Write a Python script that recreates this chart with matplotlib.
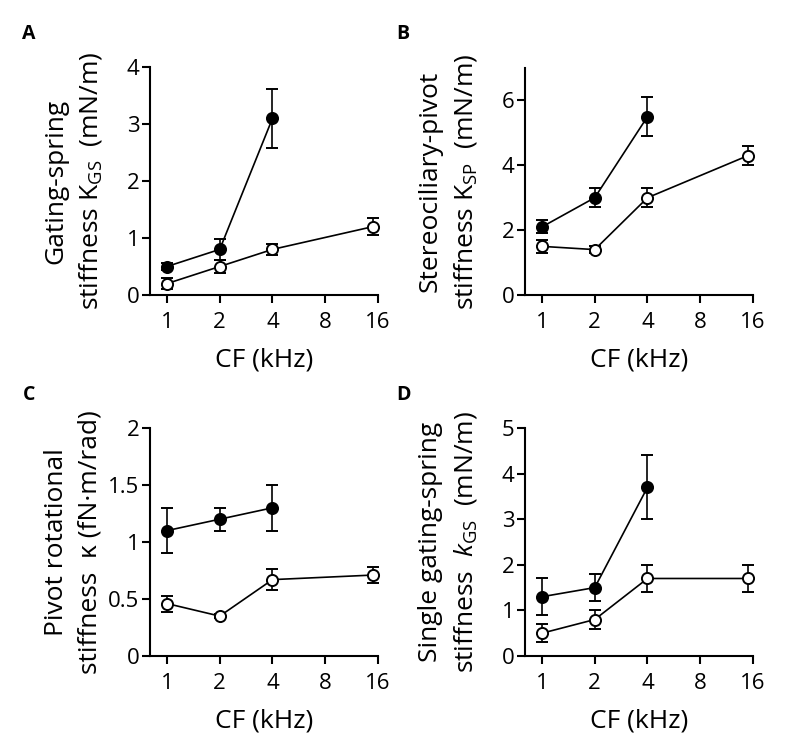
import matplotlib
matplotlib.use('Agg')
import matplotlib.pyplot as plt
from matplotlib.ticker import NullLocator

plt.rcParams['font.family'] = ['Open Sans', 'DejaVu Sans']
plt.rcParams['mathtext.fontset'] = 'custom'
plt.rcParams['mathtext.rm'] = 'Open Sans'
plt.rcParams['mathtext.it'] = 'Open Sans:italic'

# ---- data ----
cf_filled = [1, 2, 4]
cf_open = [1, 2, 4, 15]
xtick_vals = [1, 2, 4, 8, 16]
xtick_labels = ['1', '2', '4', '8', '16']

# A: gating-spring stiffness K_GS (mN/m)
a_filled = [0.5, 0.8, 3.1]
a_filled_err = [0.06, 0.18, 0.52]
a_open = [0.2, 0.5, 0.8, 1.2]
a_open_err = [0.1, 0.12, 0.1, 0.15]
a_yticks = [0, 1, 2, 3, 4]

# B: stereociliary-pivot stiffness K_SP (mN/m)
b_filled = [2.1, 3.0, 5.5]
b_filled_err = [0.2, 0.3, 0.6]
b_open = [1.5, 1.4, 3.0, 4.3]
b_open_err = [0.2, 0.1, 0.3, 0.3]
b_yticks = [0, 2, 4, 6]

# C: pivot rotational stiffness kappa (fN·m/rad)
c_filled = [1.1, 1.2, 1.3]
c_filled_err = [0.2, 0.1, 0.2]
c_open = [0.46, 0.35, 0.67, 0.71]
c_open_err = [0.07, 0.02, 0.09, 0.07]
c_yticks = [0, 0.5, 1, 1.5, 2]
c_yticklabels = ['0', '0.5', '1', '1.5', '2']

# D: single gating-spring stiffness k_GS (mN/m)
d_filled = [1.3, 1.5, 3.7]
d_filled_err = [0.4, 0.3, 0.7]
d_open = [0.5, 0.8, 1.7, 1.7]
d_open_err = [0.2, 0.2, 0.3, 0.3]
d_yticks = [0, 1, 2, 3, 4, 5]

fig = plt.figure(figsize=(7.87, 7.48), dpi=100)

W, H = 787, 748
def rect(l, r, b, t):
    return [l / W, 1 - b / H, (r - l) / W, (b - t) / H]

panels = [
    dict(rect=rect(150, 378, 295, 67), letter='A', lpos=(29, 34),
         filled=a_filled, ferr=a_filled_err, opn=a_open, oerr=a_open_err,
         ylim=(0, 4), yticks=a_yticks, yticklabels=[str(v) for v in a_yticks],
         ylabel='Gating-spring\nstiffness $\\mathregular{K_{GS}}$  (mN/m)', lx=-0.335),
    dict(rect=rect(525, 753, 295, 68), letter='B', lpos=(403, 34),
         filled=b_filled, ferr=b_filled_err, opn=b_open, oerr=b_open_err,
         ylim=(0, 7), yticks=b_yticks, yticklabels=[str(v) for v in b_yticks],
         ylabel='Stereociliary-pivot\nstiffness $\\mathregular{K_{SP}}$  (mN/m)', lx=-0.335),
    dict(rect=rect(150, 378, 656, 428), letter='C', lpos=(29, 395),
         filled=c_filled, ferr=c_filled_err, opn=c_open, oerr=c_open_err,
         ylim=(0, 2), yticks=c_yticks, yticklabels=c_yticklabels,
         ylabel='Pivot rotational\nstiffness  κ (fN·m/rad)', lx=-0.335),
    dict(rect=rect(525, 753, 656, 428), letter='D', lpos=(403, 395),
         filled=d_filled, ferr=d_filled_err, opn=d_open, oerr=d_open_err,
         ylim=(0, 5), yticks=d_yticks, yticklabels=[str(v) for v in d_yticks],
         ylabel='Single gating-spring\nstiffness  $\\mathit{k}_{\\mathregular{GS}}$  (mN/m)', lx=-0.335),
]

for p in panels:
    ax = fig.add_axes(p['rect'])
    ax.set_xscale('log', base=2)
    ax.set_xlim(0.8, 16)
    ax.set_ylim(*p['ylim'])
    common = dict(fmt='-o', color='black', ecolor='black', ms=8, mew=1.4,
                  lw=1.2, elinewidth=1.2, capsize=4.3, capthick=1.2, clip_on=False)
    ax.errorbar(cf_open, p['opn'], yerr=p['oerr'], mfc='white', mec='black', **common)
    ax.errorbar(cf_filled, p['filled'], yerr=p['ferr'], mfc='black', mec='black', **common)
    ax.set_xticks(xtick_vals)
    ax.set_xticklabels(xtick_labels)
    ax.xaxis.set_minor_locator(NullLocator())
    ax.set_yticks(p['yticks'])
    ax.set_yticklabels(p['yticklabels'])
    for s in ['top', 'right']:
        ax.spines[s].set_visible(False)
    for s in ['left', 'bottom']:
        ax.spines[s].set_linewidth(1.5)
    ax.tick_params(direction='out', length=6, width=1.5, labelsize=16)
    ax.tick_params(axis='x', pad=6)
    ax.tick_params(axis='y', pad=1.5)
    ax.set_xlabel('CF (kHz)', fontsize=19, labelpad=11)
    ax.text(p['lx'], 0.5, p['ylabel'], transform=ax.transAxes, rotation=90,
            ha='center', va='center', multialignment='center', fontsize=19,
            linespacing=1.45)
    fig.text(p['lpos'][0] / W, 1 - p['lpos'][1] / H, p['letter'], fontsize=14,
             fontweight='bold', ha='center', va='center')

fig.savefig('out.png', dpi=100)
